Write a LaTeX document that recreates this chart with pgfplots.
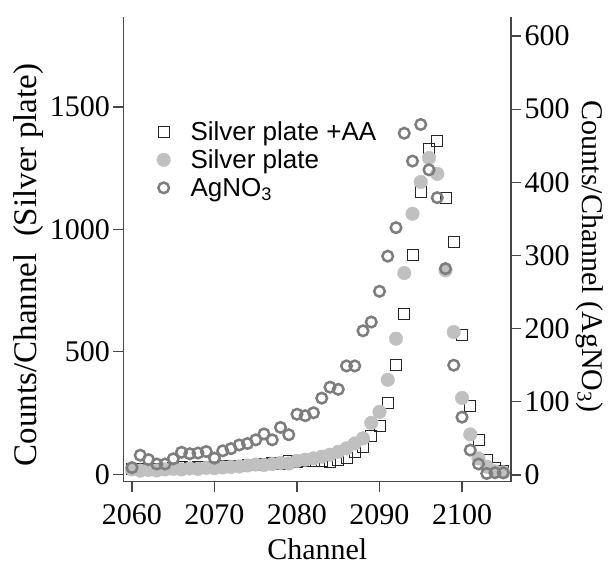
\documentclass[border=0pt]{standalone}
\usepackage{fontspec}
\setmainfont{Liberation Serif}
\newfontfamily\arial{Liberation Sans}
\usepackage{pgfplots}
\usepackage{pgfplotstable}
\pgfplotsset{compat=1.18}
\definecolor{fillgrey}{RGB}{192,192,192}
\definecolor{ringgrey}{RGB}{125,125,125}
\definecolor{axgrey}{RGB}{70,70,70}
\pgfplotstableread{
x y
2060 20
2061 22
2062 18
2063 20
2064 22
2065 25
2066 28
2067 26
2068 30
2069 28
2070 32
2071 34
2072 33
2073 36
2074 40
2075 38
2076 42
2077 45
2078 44
2079 54
2080 52
2081 55
2082 56
2083 56
2084 52
2085 58
2086 68
2087 90
2088 112
2089 155
2090 197
2091 292
2092 448
2093 656
2094 896
2095 1153
2096 1329
2097 1363
2098 1129
2099 948
2100 571
2101 280
2102 140
2103 58
2104 24
2105 12
}\plateAA
\pgfplotstableread{
x y
2060 20
2061 15
2062 18
2063 16
2064 20
2065 22
2066 20
2067 24
2068 22
2069 26
2070 25
2071 28
2072 30
2073 32
2074 36
2075 40
2076 38
2077 42
2078 46
2079 44
2080 55
2081 60
2082 65
2083 72
2084 80
2085 92
2086 106
2087 126
2088 147
2089 210
2090 255
2091 386
2092 554
2093 822
2094 1064
2095 1194
2096 1292
2097 1227
2098 833
2099 581
2100 312
2101 163
2102 65
2103 31
2104 12
2105 8
}\plate
\pgfplotstableread{
x y
2060 10
2061 27
2062 21
2063 15
2064 15
2065 22
2066 31
2067 29
2068 30
2069 32
2070 23
2071 33
2072 36
2073 41
2074 43
2075 48
2076 56
2077 48
2078 65
2079 55
2080 83
2081 81
2082 85
2083 105
2084 120
2085 117
2086 149
2087 149
2088 197
2089 209
2090 251
2091 299
2092 338
2093 467
2094 429
2095 479
2096 417
2097 379
2098 282
2099 150
2100 79
2101 34
2102 15
2103 2
2104 3
2105 3
}\agno
\begin{document}
\begin{tikzpicture}
\useasboundingbox (-123.5pt,-85.3pt) rectangle (486.5pt,481.7pt);
\pgfplotsset{
  common/.style={
    at={(0pt,0pt)}, anchor=south west,
    scale only axis, width=387.5pt, height=465pt,
    xmin=2058.97, xmax=2105.94,
    tick align=outside, major tick length=10pt,
    axis line style={axgrey, line width=1.2pt},
    every tick/.style={axgrey, line width=1.2pt},
    tick label style={font=\fontsize{30}{30}\selectfont, black},
    label style={font=\fontsize{30}{30}\selectfont, black},
    /pgf/number format/assume math mode=true,
    /pgf/number format/1000 sep={},
    clip=false,
  }
}
\begin{axis}[common,
  ymin=-30.2, ymax=1869,
  axis x line*=bottom, axis y line*=left,
  xtick={2060,2070,2080,2090,2100},
  ytick={0,500,1000,1500},
  xticklabel style={yshift=-9pt},
  xlabel={Channel},
  xlabel style={yshift=-7pt},
  ylabel={Counts/Channel\ \ (Silver plate)},
  ylabel style={font=\fontsize{33}{33}\selectfont, at={(ticklabel cs:0.466)}},
  legend style={draw=none, fill=none, at={(0.078,0.784)}, anchor=north west,
    font=\arial\fontsize{26}{26}\selectfont, row sep=4pt,
    /tikz/every odd column/.append style={column sep=18pt}},
  legend cell align=left,
]
\addplot[only marks, mark=square, mark size=5.5pt, draw=black!85, line width=0.9pt] table[x=x,y=y] {\plateAA};
\addlegendentry{Silver plate +AA}
\addplot[only marks, mark=*, mark size=6.8pt, draw=fillgrey, fill=fillgrey] table[x=x,y=y] {\plate};
\addlegendentry{Silver plate}
\addlegendimage{only marks, mark=o, mark size=5.3pt, draw=ringgrey, line width=2.5pt}
\addlegendentry{AgNO\textsubscript{3}}
\end{axis}
\begin{axis}[common,
  ymin=-9.2, ymax=626.3,
  axis x line=none, axis y line*=right,
  ytick={0,100,...,600},
  ylabel={Counts/Channel (AgNO\textsubscript{3})},
  ylabel style={rotate=180, at={(ticklabel cs:0.484)}},
]
\addplot[only marks, mark=o, mark size=5.3pt, draw=ringgrey, line width=2.5pt] table[x=x,y=y] {\agno};
\end{axis}
\end{tikzpicture}
\end{document}
